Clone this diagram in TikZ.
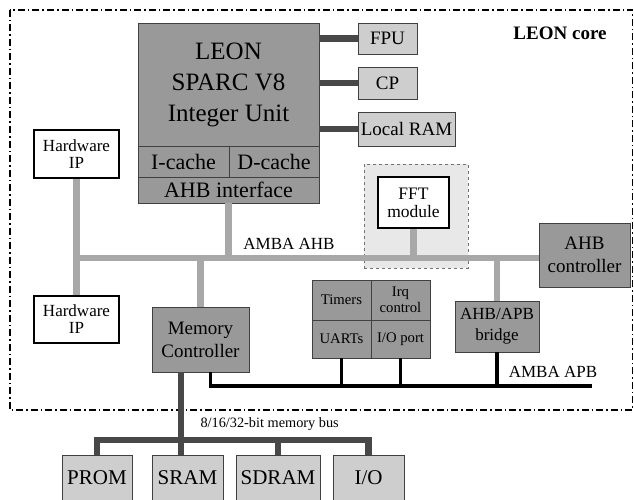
\documentclass[tikz,border=0pt]{standalone}
\usepackage{fontspec}
\setmainfont{Liberation Serif}
\definecolor{boxdark}{RGB}{153,153,153}
\definecolor{boxlight}{RGB}{206,206,206}
\definecolor{busgray}{RGB}{168,168,168}
\definecolor{busdark}{RGB}{72,72,72}
\newcommand{\fsz}[2]{\fontsize{#1}{#2}\selectfont}
\begin{document}
\begin{tikzpicture}[x=1pt, y=-1pt,
    unit/.style={draw=black!75, line width=0.8pt, inner sep=0pt, align=center},
    darkunit/.style={unit, fill=boxdark},
    lightunit/.style={unit, fill=boxlight},
    ipunit/.style={unit, draw=black, fill=white, line width=2.4pt},
    ahbline/.style={busgray, line width=6.5pt},
    apbline/.style={black, line width=3.5pt, line join=miter},
    darkline/.style={busdark, line width=6.5pt, line join=miter}]
    \useasboundingbox (0,0) rectangle (634,500);

    % LEON core frame
    \draw[line width=1.4pt, dash pattern=on 7pt off 3pt on 1.5pt off 3pt] (10,10) rectangle (632.5,410);
    \node[font=\fsz{19}{20}\bfseries] (corelabel) at (560,33) {LEON core};

    % Integer unit
    \node[darkunit, minimum width=181, minimum height=123, font=\fsz{25}{31}] (leon) at (228.5,84.5) {LEON\\SPARC V8\\Integer Unit};
    \node[darkunit, minimum width=91, minimum height=31, font=\fsz{22}{24}] (icache) at (183.5,161.5) {I-cache};
    \node[darkunit, minimum width=90, minimum height=31, font=\fsz{22}{24}] (dcache) at (274,161.5) {D-cache};
    \node[darkunit, minimum width=181, minimum height=26, font=\fsz{22}{24}] (ahbif) at (228.5,190) {AHB interface};

    % Coprocessors
    \node[lightunit, minimum width=59, minimum height=31, font=\fsz{19}{20}] (fpu) at (387.5,38.5) {FPU};
    \node[lightunit, minimum width=59, minimum height=32, font=\fsz{19}{20}] (cp) at (387.5,83) {CP};
    \node[lightunit, minimum width=97, minimum height=34, font=\fsz{19}{20}] (ram) at (406.5,129) {Local RAM};
    \foreach \u in {fpu,cp,ram}
        \draw[darkline] (leon.east |- \u.west) -- (\u.west);

    % Hardware IP and FFT
    \node[ipunit, minimum width=85, minimum height=48, font=\fsz{17}{17}] (hwtop) at (76.5,154) {Hardware\\IP};
    \node[ipunit, minimum width=85, minimum height=47, font=\fsz{17}{17}] (hwbot) at (76.5,319.5) {Hardware\\IP};
    \node[minimum width=104, minimum height=104, draw=black!55, dashed, fill=black!9] (fftarea) at (416,216) {};
    \node[ipunit, line width=1.6pt, minimum width=71, minimum height=51, font=\fsz{17.5}{18}] (fft) at (413.5,202.5) {FFT\\module};

    % AHB units
    \node[darkunit, minimum width=91, minimum height=64, font=\fsz{19}{23}] (ahbc) at (584.5,255) {AHB\\controller};
    \node[darkunit, minimum width=97, minimum height=65, font=\fsz{19}{23}] (memctrl) at (200.5,339.5) {Memory\\Controller};
    \node[darkunit, minimum width=84, minimum height=51, font=\fsz{17}{21}] (bridge) at (497,326.5) {AHB/APB\\bridge};

    % APB peripherals
    \node[darkunit, minimum width=59, minimum height=40, font=\fsz{14.7}{16}] (timers) at (341.5,300) {Timers};
    \node[darkunit, minimum width=59, minimum height=40, font=\fsz{14.7}{16}] (irq) at (400.5,300) {Irq\\control};
    \node[darkunit, minimum width=59, minimum height=38, font=\fsz{14.7}{16}] (uarts) at (341.5,339) {UARTs};
    \node[darkunit, minimum width=59, minimum height=38, font=\fsz{14.7}{16}] (ioport) at (400.5,339) {I/O port};

    % Memories
    \foreach \n/\x/\w/\t in {prom/97/70/PROM, sram/187.5/71/SRAM, sdram/278/84/SDRAM, io/368.5/71/{I/O}}
        \node[lightunit, minimum width=\w, minimum height=46, font=\fsz{21}{22}] (\n) at (\x,478) {\t};

    % AMBA AHB
    \coordinate (ahb) at (0,258);
    \draw[ahbline] (hwtop.south) -- (hwbot.north);
    \draw[ahbline] (hwtop.south |- ahb) -- (ahbc.west |- ahb);
    \draw[ahbline] (ahbif.south) -- (ahbif.south |- ahb);
    \draw[ahbline] (fft.south) -- (fft.south |- ahb);
    \draw[ahbline] (memctrl.north |- ahb) -- (memctrl.north);
    \draw[ahbline] (bridge.north |- ahb) -- (bridge.north);
    \node[font=\fsz{17}{17}] (ahblabel) at (289,244) {AMBA AHB};

    % AMBA APB
    \coordinate (apbend) at (592,386);
    \draw[apbline] ([xshift=10]memctrl.south) |- (apbend);
    \foreach \u in {uarts,ioport,bridge}
        \draw[apbline] (\u.south) -- (\u.south |- apbend);
    \node[font=\fsz{17}{17}] (apblabel) at (553,372) {AMBA APB};

    % Memory bus
    \coordinate (mbus) at (181,440);
    \draw[darkline] (mbus |- memctrl.south) -- (mbus |- sram.north);
    \draw[darkline] (prom.north) |- (io.north |- mbus) -- (io.north);
    \draw[darkline] (sdram.north) -- (sdram.north |- mbus);
    \node[anchor=west, font=\fsz{14.3}{15}] (mbuslabel) at (197,424) {8/16/32-bit memory bus};
\end{tikzpicture}
\end{document}
